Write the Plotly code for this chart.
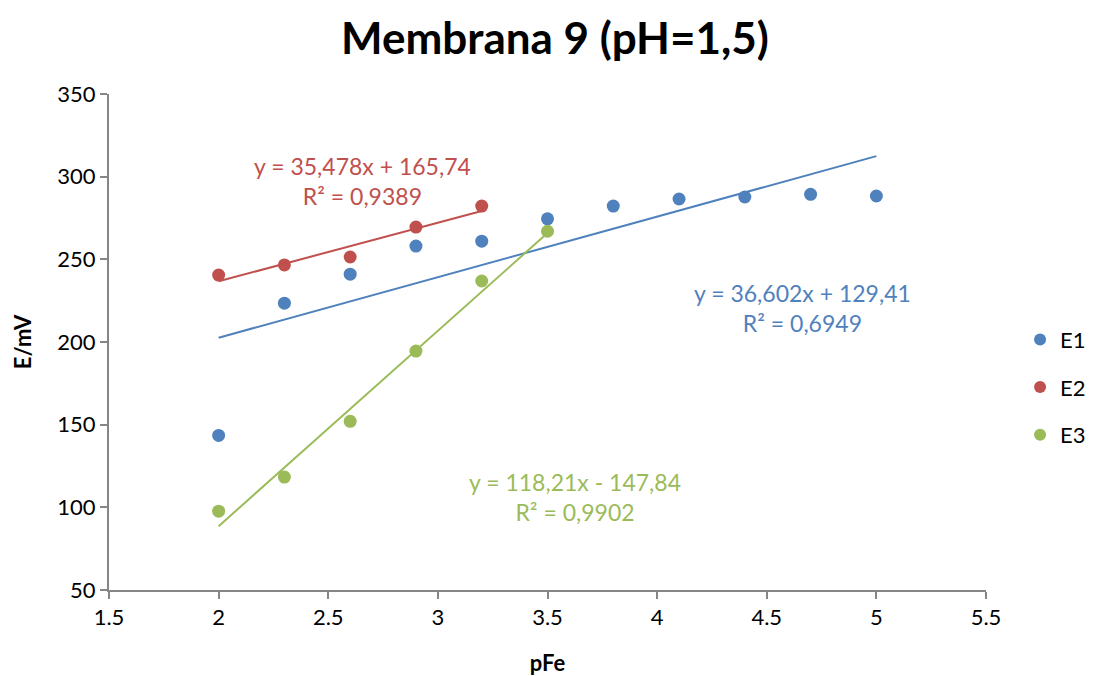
import plotly.graph_objects as go

# Data
x1 = [2.0, 2.3, 2.6, 2.9, 3.2, 3.5, 3.8, 4.1, 4.4, 4.7, 5.0]
e1 = [143.5, 223.5, 241.0, 258.0, 261.0, 274.5, 282.2, 286.5, 287.7, 289.3, 288.3]
x2 = [2.0, 2.3, 2.6, 2.9, 3.2]
e2 = [240.5, 246.6, 251.4, 269.5, 282.2]
x3 = [2.0, 2.3, 2.6, 2.9, 3.2, 3.5]
e3 = [97.7, 118.3, 152.0, 194.5, 236.9, 267.0]

# Trendline coefficients (slope, intercept) as displayed
fit1 = (36.602, 129.41)
fit2 = (35.478, 165.74)
fit3 = (118.21, -147.84)

labels1 = "y = 36,602x + 129,41<br>R² = 0,6949"
labels2 = "y = 35,478x + 165,74<br>R² = 0,9389"
labels3 = "y = 118,21x - 147,84<br>R² = 0,9902"

colors = ["#4F81BD", "#C0504D", "#9BBB59"]
FONT = "Lato"

fig = go.Figure()
series = [("E1", x1, e1, fit1), ("E2", x2, e2, fit2), ("E3", x3, e3, fit3)]
for (name, xs, ys, fit), c in zip(series, colors):
    fig.add_trace(go.Scatter(x=xs, y=ys, mode="markers", name=name, legendgroup=name,
                             marker=dict(color=c, size=13)))
for (name, xs, ys, fit), c in zip(series, colors):
    lx = [min(xs), max(xs)]
    ly = [fit[0] * v + fit[1] for v in lx]
    fig.add_trace(go.Scatter(x=lx, y=ly, mode="lines", showlegend=False,
                             line=dict(color=c, width=2), hoverinfo="skip"))

ann = [(labels2, 2.654, 297.4, colors[1]),
       (labels1, 4.661, 220.8, colors[0]),
       (labels3, 3.625, 106.5, colors[2])]
for txt, ax, ay, c in ann:
    fig.add_annotation(x=ax, y=ay, text=txt, showarrow=False, xref="x", yref="y",
                       font=dict(family=FONT, size=23, color=c), align="center")

axis_common = dict(showgrid=False, zeroline=False, showline=True,
                   linecolor="#868686", linewidth=2, ticks="outside",
                   tickcolor="#868686", ticklen=7, tickwidth=2,
                   tickfont=dict(family=FONT, size=22, color="black"))
fig.update_xaxes(range=[1.5, 5.5], dtick=0.5, tickformat="~g",
                 title=dict(text="<b>pFe</b>", font=dict(family=FONT, size=22, color="black"), standoff=26),
                 **axis_common)
fig.update_yaxes(range=[50, 350], dtick=50,
                 title=dict(text="<b>E/mV</b>", font=dict(family=FONT, size=22, color="black"), standoff=20),
                 **axis_common)

fig.update_layout(
    width=1094, height=676,
    margin=dict(l=101, r=116, t=86, b=94, autoexpand=False),
    paper_bgcolor="white", plot_bgcolor="white",
    title=dict(text="<b>Membrana 9 (pH=1,5)</b>", x=0.5, xanchor="center", y=0.955, yanchor="middle",
               font=dict(family=FONT, size=44, color="black")),
    legend=dict(xref="container", x=0.99, y=0.409, xanchor="right", yanchor="middle",
                font=dict(family=FONT, size=22, color="black"),
                itemsizing="constant", tracegroupgap=16, bgcolor="rgba(0,0,0,0)"),
    showlegend=True,
)

fig.write_html("out.html")
